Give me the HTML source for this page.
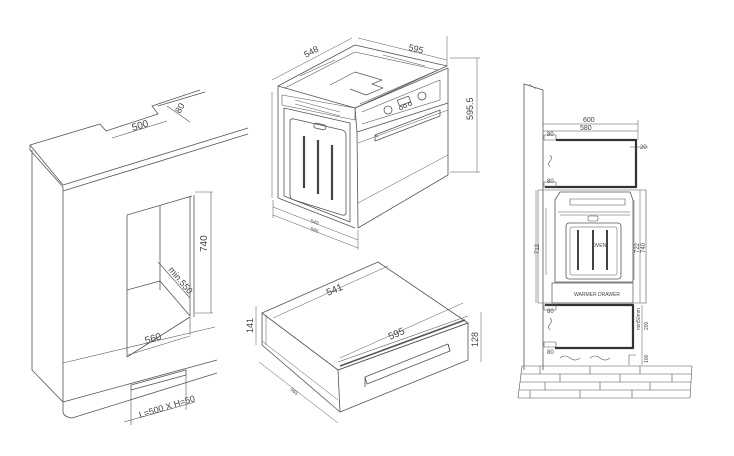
<!DOCTYPE html>
<html><head><meta charset="utf-8"><style>
html,body{margin:0;padding:0;background:#fff;}
svg{display:block}
text{font-family:"Liberation Sans",sans-serif;fill:#444;}
</style></head><body>
<svg width="734" height="456" viewBox="0 0 734 456" xmlns="http://www.w3.org/2000/svg" fill="none" stroke="#555" stroke-width="0.8" stroke-linejoin="round">

<!-- ===== LEFT CABINET ===== -->
<g>
<polyline points="30,145 100,124 106,131 158,114 152,106 200,90"/>
<polyline points="30,145 30,150 63,187 63,192"/>
<line x1="30" y1="145" x2="63" y2="185"/>
<line x1="63" y1="185" x2="248" y2="128"/>
<line x1="63" y1="191" x2="248" y2="134"/>
<line x1="158" y1="106" x2="205" y2="92"/>
<line x1="112" y1="138" x2="167" y2="121" stroke-width="0.6"/>
<line x1="167" y1="106" x2="190" y2="122" stroke-width="0.6"/>
<text x="133" y="131" font-size="10" transform="rotate(-17 133 131)" stroke="none">500</text>
<text x="180" y="114" font-size="9" transform="rotate(-60 180 114)" stroke="none">80</text>
<!-- body -->
<line x1="32" y1="150" x2="32" y2="370"/>
<line x1="63" y1="192" x2="63" y2="412"/>
<line x1="32" y1="370" x2="63" y2="402"/>
<path d="M63,412 Q64,417 72,418"/>
<line x1="63" y1="402" x2="217" y2="360"/>
<line x1="72" y1="418" x2="217" y2="373"/>
<line x1="63" y1="363" x2="215" y2="327" stroke-width="0.6"/>
<!-- opening -->
<line x1="127" y1="215" x2="127" y2="357"/>
<line x1="127" y1="215" x2="192" y2="196"/>
<line x1="160" y1="205" x2="160" y2="290"/>
<line x1="127" y1="290" x2="160" y2="281"/>
<line x1="160" y1="281" x2="190" y2="316"/>
<line x1="190" y1="196" x2="190" y2="316"/>
<line x1="194" y1="195" x2="194" y2="317"/>
<line x1="127" y1="357" x2="190" y2="317"/>
<line x1="190" y1="317" x2="190" y2="335" stroke-width="0.6"/>
<line x1="128" y1="355" x2="190" y2="336" stroke-width="0.6"/>
<text x="146" y="344" font-size="10" transform="rotate(-17 146 344)" stroke="none">560</text>
<line x1="195" y1="192" x2="213" y2="192" stroke-width="0.6"/>
<line x1="195" y1="313" x2="213" y2="313" stroke-width="0.6"/>
<line x1="211" y1="192" x2="211" y2="313" stroke-width="0.6"/>
<text x="207" y="252" font-size="10" transform="rotate(-90 207 252)" stroke="none">740</text>
<line x1="158" y1="262" x2="190" y2="298" stroke-width="0.6"/>
<text x="168" y="270" font-size="9" transform="rotate(50 168 270)" stroke="none">min.550</text>
<!-- vent -->
<polygon points="131,385 186,370 186,375 131,390"/>
<line x1="131" y1="390" x2="131" y2="425" stroke-width="0.6"/>
<line x1="186" y1="375" x2="186" y2="410" stroke-width="0.6"/>
<line x1="124" y1="422" x2="195" y2="402" stroke-width="0.6"/>
<text x="140" y="418" font-size="9" transform="rotate(-17 140 418)" stroke="none">L=500 X H=50</text>
</g>

<!-- ===== OVEN ===== -->
<g>
<polygon points="278,86 355,45 447,66 355,108"/>
<polyline points="285,88 355,52 438,70 360,104" stroke-width="0.6"/>
<polyline points="330,85 355,72 382,80 372,84 383,88 366,95 350,89" stroke-width="0.7"/>
<line x1="300" y1="76" x2="335" y2="60" stroke-width="0.6"/>
<line x1="383" y1="55" x2="425" y2="66" stroke-width="0.6"/>
<polygon points="355,108 448,68 448,103 357,132"/>
<polyline points="362,112 440,80 440,100 362,124" stroke-width="0.6"/>
<circle cx="388" cy="110" r="4"/>
<circle cx="422" cy="96" r="4"/>
<rect x="398" y="98" width="12" height="6" transform="rotate(-20 404 101)"/>
<circle cx="401" cy="108" r="1.5"/><circle cx="405" cy="106" r="1.5"/><circle cx="410" cy="104" r="1.5"/>
<polygon points="375,135 440,110 440,116 375,141"/>
<line x1="375" y1="135" x2="378" y2="137"/>
<line x1="357" y1="132" x2="358" y2="228"/>
<line x1="448" y1="103" x2="448" y2="175"/>
<line x1="358" y1="228" x2="448" y2="175"/>
<line x1="358" y1="143" x2="448" y2="110" stroke-width="0.5"/>
<line x1="358" y1="203" x2="448" y2="155" stroke-width="0.5"/>
<line x1="278" y1="86" x2="278" y2="198"/>
<line x1="278" y1="198" x2="355" y2="228"/>
<line x1="272" y1="92" x2="272" y2="198" stroke-width="0.5"/>
<path d="M282,95 L355,108 L355,120 L282,105 Z" stroke-width="0.6"/>
<g stroke-width="0.5">
<line x1="295" y1="100" x2="340" y2="112"/>
<line x1="295" y1="104" x2="340" y2="116"/>
</g>
<path d="M284,108 L350,123 L350,222 L284,196 Z"/>
<path d="M290,122 Q290,118 294,119 L342,130 Q346,131 346,135 L346,212 Q346,216 342,215 L294,200 Q290,199 290,195 Z"/>
<rect x="314" y="124" width="12" height="5" rx="2" transform="rotate(13 320 126)"/>
<g stroke-width="2.2" stroke="#444">
<line x1="304" y1="136" x2="304" y2="188"/>
<line x1="318" y1="140" x2="318" y2="194"/>
<line x1="332" y1="145" x2="332" y2="200"/>
</g>
<g stroke-width="0.5">
<line x1="272" y1="80" x2="352" y2="38"/>
<line x1="358" y1="38" x2="447" y2="60"/>
<line x1="447" y1="36" x2="447" y2="66"/>
<line x1="450" y1="58" x2="480" y2="58"/>
<line x1="450" y1="172" x2="480" y2="172"/>
<line x1="477" y1="58" x2="477" y2="172"/>
<line x1="273" y1="207" x2="358" y2="240"/>
<line x1="273" y1="215" x2="358" y2="248"/>
<line x1="273" y1="200" x2="273" y2="218"/>
<line x1="358" y1="230" x2="358" y2="250"/>
</g>
<text x="306" y="58" font-size="9" transform="rotate(-28 306 58)" stroke="none">548</text>
<text x="408" y="50" font-size="9" transform="rotate(14 408 50)" stroke="none">595</text>
<text x="473" y="120" font-size="9" transform="rotate(-90 473 120)" stroke="none">595.5</text>
<text x="310" y="222" font-size="5" transform="rotate(21 310 222)" stroke="none">540</text>
<text x="310" y="230" font-size="5" transform="rotate(21 310 230)" stroke="none">565</text>
</g>

<!-- ===== DRAWER ===== -->
<g>
<polygon points="262,313 378,262 468,323 338,370"/>
<line x1="338" y1="362" x2="468" y2="316" stroke-width="0.6"/>
<line x1="340" y1="366" x2="465" y2="320" stroke-width="1.6"/>
<polygon points="338,370 468,323 468,360 340,412"/>
<line x1="262" y1="313" x2="262" y2="345"/>
<line x1="266" y1="315" x2="266" y2="345" stroke-width="0.5"/>
<line x1="262" y1="345" x2="340" y2="412"/>
<line x1="262" y1="341" x2="338" y2="400" stroke-width="0.5"/>
<polygon points="365,377 448,344 450,351 367,384" />
<line x1="365" y1="377" x2="365" y2="387"/>
<line x1="448" y1="344" x2="450" y2="351"/>
<g stroke-width="0.5">
<line x1="273" y1="318" x2="388" y2="266"/>
<line x1="340" y1="358" x2="463" y2="303"/>
<line x1="256" y1="306" x2="256" y2="345"/>
<line x1="481" y1="312" x2="481" y2="362"/>
<line x1="259" y1="362" x2="338" y2="423"/>
</g>
<text x="328" y="296" font-size="10" transform="rotate(-23 328 296)" stroke="none">541</text>
<text x="390" y="340" font-size="10" transform="rotate(-23 390 340)" stroke="none">595</text>
<text x="253" y="333" font-size="9" transform="rotate(-90 253 333)" stroke="none">141</text>
<text x="478" y="347" font-size="9" transform="rotate(-90 478 347)" stroke="none">128</text>
<text x="290" y="390" font-size="5" transform="rotate(40 290 390)" stroke="none">565</text>
</g>

<!-- ===== RIGHT SECTION ===== -->
<g>
<polyline points="524,370 524,84 543,90 543,370"/>
<line x1="529" y1="84" x2="536" y2="89" stroke-width="0.5"/>
<g stroke="#333" stroke-width="2.2">
<polyline points="556,140 636,140 636,187 545,187"/>
<polyline points="545,305 633,305 633,348 555,348"/>
</g>
<rect x="544" y="135" width="12" height="5" stroke-width="0.6"/>
<rect x="544" y="182" width="12" height="5" stroke-width="0.6"/>
<rect x="544" y="305" width="12" height="5" stroke-width="0.6"/>
<rect x="544" y="342" width="12" height="5" stroke-width="0.6"/>
<text x="547" y="136" font-size="6" stroke="none">80</text>
<text x="547" y="183" font-size="6" stroke="none">80</text>
<text x="547" y="313" font-size="6" stroke="none">80</text>
<text x="547" y="354" font-size="6" stroke="none">80</text>
<g stroke-width="0.5">
<line x1="543" y1="124" x2="638" y2="124"/>
<line x1="543" y1="131" x2="638" y2="131"/>
<line x1="638" y1="120" x2="638" y2="140"/>
<line x1="630" y1="147" x2="648" y2="147"/>
</g>
<text x="583" y="122" font-size="7" stroke="none">600</text>
<text x="580" y="130" font-size="7" stroke="none">580</text>
<text x="640" y="149" font-size="6" stroke="none">20</text>
<path d="M550,155 q3,3 0,6 q-3,3 0,6" stroke-width="0.6"/>
<path d="M550,318 q3,3 0,6 q-3,3 0,6" stroke-width="0.6"/>
<path d="M560,358 q5,-4 10,0 q5,4 10,0 M590,358 q5,-4 10,0 q5,4 10,0" stroke-width="0.6"/>
<rect x="538" y="190" width="108" height="113" stroke-width="0.6"/>
<path d="M555,200 L560,192 L630,192 L633,200 L633,282 L555,282 Z"/>
<rect x="570" y="199" width="55" height="6" stroke-width="0.6"/>
<line x1="558" y1="212" x2="630" y2="212" stroke-width="0.6"/>
<line x1="560" y1="215" x2="630" y2="215" stroke-width="0.6"/>
<rect x="566" y="223" width="55" height="56" rx="3"/>
<rect x="570" y="227" width="47" height="48" rx="2" stroke-width="0.5"/>
<rect x="588" y="216" width="10" height="5" rx="1.5" stroke-width="0.6"/>
<g stroke-width="2" stroke="#444">
<line x1="578" y1="230" x2="578" y2="270"/>
<line x1="593" y1="230" x2="593" y2="270"/>
<line x1="607" y1="230" x2="607" y2="270"/>
</g>
<text x="592" y="247" font-size="5" stroke="none" font-family="Liberation Serif">OVEN</text>
<rect x="552" y="283" width="81" height="20" stroke-width="0.7"/>
<text x="574" y="296" font-size="5" stroke="none" font-family="Liberation Serif">WARMER DRAWER</text>
<line x1="546" y1="208" x2="546" y2="275" stroke-width="0.5"/>
<line x1="536" y1="190" x2="536" y2="303" stroke-width="0.5"/>
<text x="539" y="254" font-size="6" transform="rotate(-90 539 254)" stroke="none">712</text>
<line x1="640" y1="190" x2="640" y2="303" stroke-width="0.5"/>
<line x1="634" y1="200" x2="634" y2="280" stroke-width="0.5"/>
<text x="639" y="253" font-size="6" transform="rotate(-90 639 253)" stroke="none">722</text>
<text x="645" y="253" font-size="6" transform="rotate(-90 645 253)" stroke="none">740</text>
<line x1="642" y1="305" x2="642" y2="365" stroke-width="0.5"/>
<text x="640" y="330" font-size="5" transform="rotate(-90 640 330)" stroke="none">min50mm</text>
<text x="648" y="330" font-size="5" transform="rotate(-90 648 330)" stroke="none">200</text>
<text x="648" y="363" font-size="5" transform="rotate(-90 648 363)" stroke="none">100</text>
<polyline points="629,365 629,355 636,355" stroke-width="0.6"/>
<g stroke-width="0.6">
<polygon points="522,366 692,366 690,398 518,398"/>
<line x1="521" y1="374" x2="691" y2="374"/>
<line x1="520" y1="382" x2="691" y2="382"/>
<line x1="519" y1="390" x2="690" y2="390"/>
<line x1="540" y1="366" x2="540" y2="374"/><line x1="590" y1="366" x2="590" y2="374"/><line x1="640" y1="366" x2="640" y2="374"/>
<line x1="560" y1="374" x2="560" y2="382"/><line x1="620" y1="374" x2="620" y2="382"/><line x1="672" y1="374" x2="672" y2="382"/>
<line x1="545" y1="382" x2="545" y2="390"/><line x1="600" y1="382" x2="600" y2="390"/><line x1="650" y1="382" x2="650" y2="390"/>
<line x1="530" y1="390" x2="530" y2="398"/><line x1="580" y1="390" x2="580" y2="398"/><line x1="632" y1="390" x2="632" y2="398"/>
</g>
</g>
</svg>
</body></html>
